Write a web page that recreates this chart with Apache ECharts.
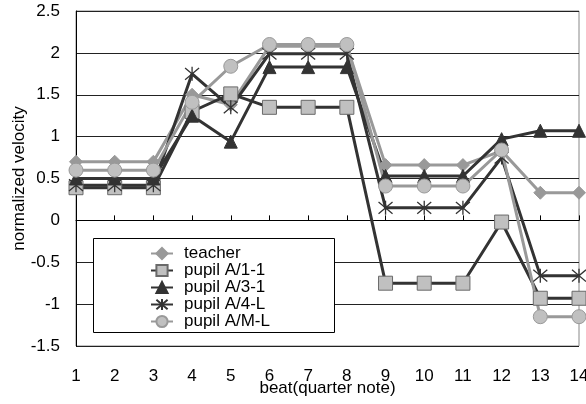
<!DOCTYPE html>
<html>
<head>
<meta charset="utf-8">
<script src="https://cdn.jsdelivr.net/npm/echarts@6/dist/echarts.min.js"></script>
<style>
  html, body { margin: 0; padding: 0; background: #fff; }
  #chart { width: 586px; height: 404px; }
</style>
</head>
<body>
<div id="chart"></div>
<script>
// Beats (quarter notes) along the x axis
const beats = ['1','2','3','4','5','6','7','8','9','10','11','12','13','14'];

// Normalized velocity per beat
const teacher = [0.70, 0.70, 0.70, 1.50, 1.38, 2.08, 2.08, 2.08, 0.66, 0.66, 0.66, 0.83, 0.33, 0.33];
const pupilA11 = [0.39, 0.39, 0.39, 1.30, 1.51, 1.35, 1.35, 1.35, -0.75, -0.75, -0.75, -0.02, -0.93, -0.93];
const pupilA31 = [0.50, 0.50, 0.50, 1.25, 0.94, 1.83, 1.83, 1.83, 0.53, 0.53, 0.53, 0.97, 1.07, 1.07];
const pupilA4L = [0.42, 0.42, 0.42, 1.75, 1.35, 1.99, 1.99, 1.99, 0.15, 0.15, 0.15, 0.75, -0.66, -0.66];
const pupilAML = [0.60, 0.60, 0.60, 1.41, 1.84, 2.10, 2.10, 2.10, 0.41, 0.41, 0.41, 0.84, -1.15, -1.15];

const FONT = '"Liberation Sans", Arial, sans-serif';
const DARK = '#333333';
const GREY = '#999999';
const ASTERISK = 'path://M0,0L10,10M10,0L0,10M5,-1L5,11';

function lineSeries(name, data, lineColor, symbol, size, item) {
  return {
    name: name,
    type: 'line',
    data: data,
    symbol: symbol,
    symbolSize: size,
    showAllSymbol: true,
    lineStyle: { color: lineColor, width: 3 },
    itemStyle: item,
    emphasis: { disabled: true }
  };
}

const chart = echarts.init(document.getElementById('chart'), null, { renderer: 'canvas' });
chart.setOption({
  animation: false,
  backgroundColor: '#ffffff',
  textStyle: { fontFamily: FONT },
  grid: {
    left: 76, right: 7, top: 11, bottom: 58,
    containLabel: false,
    outerBoundsMode: 'none',
    show: true, borderColor: '#888888', borderWidth: 1, backgroundColor: 'transparent'
  },
  // framed box behind the legend entries
  graphic: [{
    type: 'rect',
    z: 5,
    shape: { x: 93.5, y: 238.5, width: 241, height: 94 },
    style: { fill: '#ffffff', stroke: '#000000', lineWidth: 1 }
  }],
  legend: {
    orient: 'vertical',
    left: 150, top: 245,
    z: 6,
    padding: 0,
    itemWidth: 22, itemHeight: 14, itemGap: 0,
    textStyle: { fontFamily: FONT, fontSize: 17, lineHeight: 17, color: '#000', padding: [0, 0, 0, 6] },
    data: ['teacher', 'pupil A/1-1', 'pupil A/3-1', 'pupil A/4-L', 'pupil A/M-L']
  },
  xAxis: {
    type: 'category',
    data: beats,
    boundaryGap: false,
    name: 'beat(quarter note)',
    nameLocation: 'middle',
    nameGap: 34,
    nameMoveOverlap: false,
    nameTextStyle: { fontFamily: FONT, fontSize: 17, color: '#000' },
    axisLine: { lineStyle: { color: '#000', width: 1 } },
    axisTick: { inside: true, length: 5, lineStyle: { color: '#000' } },
    axisLabel: { fontFamily: FONT, fontSize: 17, color: '#000', margin: 22 },
    splitLine: { show: false }
  },
  yAxis: {
    type: 'value',
    min: -1.5, max: 2.5, interval: 0.5,
    name: 'normalized velocity',
    nameLocation: 'middle',
    nameGap: 48,
    nameMoveOverlap: false,
    nameTextStyle: { fontFamily: FONT, fontSize: 17, color: '#000' },
    axisLine: { show: true, lineStyle: { color: '#000', width: 1 } },
    axisTick: { show: false },
    axisLabel: { fontFamily: FONT, fontSize: 17, color: '#000', margin: 16 },
    splitLine: { show: true, lineStyle: { color: '#222', width: 1 } }
  },
  series: [
    lineSeries('teacher', teacher, GREY, 'diamond', 13, { color: GREY, borderColor: GREY, borderWidth: 1 }),
    lineSeries('pupil A/1-1', pupilA11, DARK, 'rect', 14, { color: '#c0c0c0', borderColor: '#6a6a6a', borderWidth: 1 }),
    lineSeries('pupil A/3-1', pupilA31, DARK, 'triangle', 13, { color: DARK, borderColor: DARK, borderWidth: 1 }),
    lineSeries('pupil A/4-L', pupilA4L, DARK, ASTERISK, 14, { color: 'rgba(0,0,0,0)', borderColor: DARK, borderWidth: 1.3 }),
    lineSeries('pupil A/M-L', pupilAML, GREY, 'circle', 14, { color: '#c0c0c0', borderColor: GREY, borderWidth: 1 })
  ]
});
</script>
</body>
</html>
